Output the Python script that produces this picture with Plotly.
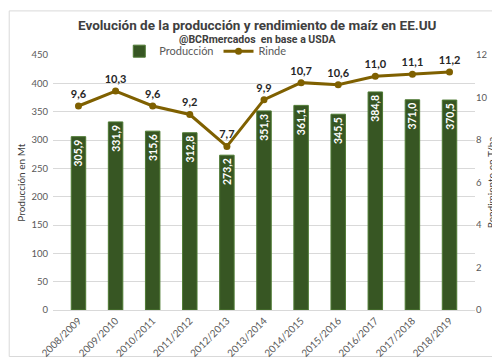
import plotly.graph_objects as go

campanias = ["2008/2009", "2009/2010", "2010/2011", "2011/2012", "2012/2013", "2013/2014",
             "2014/2015", "2015/2016", "2016/2017", "2017/2018", "2018/2019"]
produccion = [305.9, 331.9, 315.6, 312.8, 273.2, 351.3, 361.1, 345.5, 384.8, 371.0, 370.5]
rinde = [9.6, 10.3, 9.6, 9.2, 7.7, 9.9, 10.7, 10.6, 11.0, 11.1, 11.2]

W, H = 500, 363
ml, mr, mt, mb = 45, 31, 47, 50
pw, ph = W - ml - mr, H - mt - mb


def px_x(px):
    return (px - ml) / pw


def px_y(py):
    return (H - mb - py) / ph


fig = go.Figure()
fig.add_trace(go.Bar(
    x=campanias, y=produccion, name="Producción",
    marker=dict(color="#375623", line=dict(color="#4E7A33", width=1)),
    width=0.39,
    texttemplate="<b>%{y:.1f}</b>", textposition="inside", insidetextanchor="end",
    textangle=-90, constraintext="none",
    textfont=dict(color="white", size=10.5, family="Lato"),
    cliponaxis=False,
))
fig.add_trace(go.Scatter(
    x=campanias, y=rinde, name="Rinde", yaxis="y2",
    mode="lines+markers+text",
    line=dict(color="#7F6000", width=3),
    marker=dict(color="#7F6000", size=7),
    texttemplate="<b>%{y:.1f}</b>", textposition="top center",
    textfont=dict(color="#262626", size=11, family="Lato"),
    cliponaxis=False,
))

annotations = [
    dict(text="<b>Evolución de la producción y rendimiento de maíz en EE.UU</b>",
         x=px_x(250), xref="paper", y=px_y(16), yref="paper", xanchor="center", yanchor="middle",
         showarrow=False, font=dict(size=13.5, color="#404040", family="Roboto")),
    dict(text="<b>@BCRmercados  en base a USDA</b>",
         x=px_x(250), xref="paper", y=px_y(31), yref="paper", xanchor="center", yanchor="middle",
         showarrow=False, font=dict(size=10.5, color="#404040", family="Roboto")),
    dict(text="Producción en Mt", textangle=-90,
         x=px_x(12), xref="paper", y=px_y(180), yref="paper", xanchor="center", yanchor="middle",
         showarrow=False, font=dict(size=10, color="#404040", family="Lato")),
]

fig.update_layout(
    width=W, height=H,
    margin=dict(l=ml, r=mr, t=mt, b=mb),
    paper_bgcolor="white", plot_bgcolor="white",
    separators=",.",
    font=dict(family="Lato", color="#595959"),
    annotations=annotations,
    legend=dict(orientation="h", x=px_x(198), xanchor="center", y=px_y(43), yanchor="middle",
                font=dict(size=11, color="#595959"), bgcolor="rgba(0,0,0,0)",
                traceorder="normal"),
    bargap=0.61,
    xaxis=dict(tickangle=-45, tickfont=dict(size=10, color="#595959"),
               showline=True, linecolor="#D9D9D9", showgrid=False, ticks=""),
    yaxis=dict(range=[0, 450], dtick=50, gridcolor="#D9D9D9", zeroline=False,
               tickfont=dict(size=9.5, color="#595959"), ticklabelstandoff=4),
    yaxis2=dict(range=[0, 12], dtick=2, overlaying="y", side="right", showgrid=False,
                zeroline=False, tickfont=dict(size=9.5, color="#595959"), ticklabelstandoff=0,
                title=dict(text="Rendimiento en T/ha", font=dict(size=10, color="#404040", family="Lato"),
                           standoff=1)),
    showlegend=True,
)

fig.add_shape(type="rect", xref="paper", yref="paper",
              x0=px_x(1), x1=px_x(W - 1.5), y0=px_y(H - 1.5), y1=px_y(1),
              line=dict(color="#D9D9D9", width=1), layer="below")

fig.write_html("out.html")
